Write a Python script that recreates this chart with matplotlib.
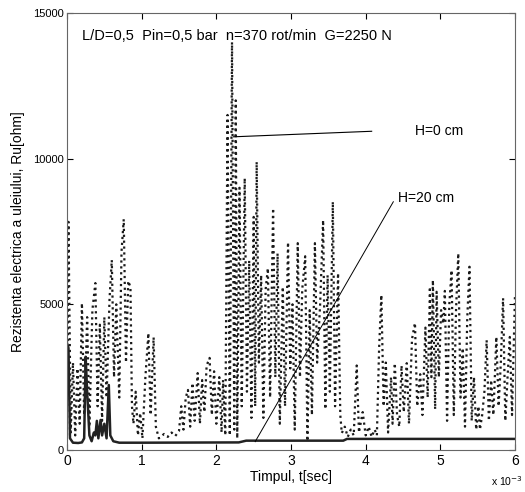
import matplotlib
matplotlib.use("Agg")
import matplotlib.pyplot as plt

plt.rcParams['font.family'] = ['Liberation Sans', 'DejaVu Sans']

# H=0 cm signal (time in ms, resistance in ohm) - peaks/troughs
t_h0 = [0.00, 0.02, 0.05, 0.08, 0.11, 0.14, 0.17, 0.20, 0.23, 0.27, 0.30, 0.34, 0.38, 0.41,
        0.44, 0.47, 0.50, 0.53, 0.57, 0.60, 0.63, 0.66, 0.70, 0.73, 0.76, 0.79, 0.82, 0.85,
        0.87, 0.89, 0.92, 0.95, 0.98, 1.01, 1.05, 1.09, 1.12, 1.16, 1.19, 1.23, 1.30, 1.35,
        1.40, 1.45, 1.50, 1.53, 1.56, 1.59, 1.62, 1.65, 1.68, 1.71, 1.75, 1.78, 1.81, 1.84,
        1.87, 1.91, 1.94, 1.97, 2.00, 2.04, 2.07, 2.09, 2.12, 2.15, 2.18, 2.21, 2.24, 2.26,
        2.28, 2.31, 2.34, 2.38, 2.41, 2.44, 2.47, 2.50, 2.52, 2.54, 2.57, 2.60, 2.63, 2.66,
        2.69, 2.72, 2.76, 2.79, 2.82, 2.85, 2.89, 2.92, 2.96, 2.99, 3.02, 3.05, 3.09, 3.12,
        3.15, 3.19, 3.22, 3.25, 3.28, 3.32, 3.35, 3.39, 3.43, 3.46, 3.49, 3.52, 3.56, 3.59,
        3.63, 3.66, 3.68, 3.72, 3.76, 3.80, 3.84, 3.88, 3.91, 3.96, 4.00, 4.04, 4.08, 4.12,
        4.15, 4.18, 4.21, 4.24, 4.27, 4.30, 4.34, 4.36, 4.39, 4.42, 4.45, 4.48, 4.51, 4.55,
        4.58, 4.62, 4.66, 4.69, 4.73, 4.76, 4.80, 4.83, 4.86, 4.88, 4.90, 4.93, 4.95, 4.98,
        5.01, 5.04, 5.06, 5.09, 5.12, 5.15, 5.18, 5.21, 5.24, 5.27, 5.30, 5.33, 5.36, 5.39,
        5.42, 5.45, 5.48, 5.51, 5.53, 5.56, 5.59, 5.62, 5.65, 5.68, 5.71, 5.75, 5.78, 5.81,
        5.84, 5.87, 5.90, 5.93, 5.96, 6.00]
r_h0 = [500, 7830, 600, 3000, 500, 2800, 900, 5040, 1200, 4560, 800, 4800, 5730, 1500,
        4300, 1000, 4560, 1800, 5200, 6520, 2500, 5000, 1800, 6800, 7920, 3000, 5800, 5590,
        1500, 900, 2000, 500, 1270, 400, 2500, 4010, 1200, 3870, 800, 400, 550, 450,
        600, 480, 650, 1500, 700, 1800, 2060, 800, 2300, 1000, 2640, 900, 2400, 1300,
        2900, 3160, 1200, 2700, 900, 2500, 600, 2400, 500, 11500, 500, 14000, 700, 12000,
        400, 9000, 1500, 9330, 2000, 6500, 1100, 8000, 1500, 9890, 3000, 6000, 1100, 5500,
        6240, 1800, 8300, 2500, 6750, 900, 5600, 1500, 7130, 2800, 5000, 700, 7100, 2500,
        5500, 6650, 300, 4800, 1200, 7100, 3000, 5000, 7890, 1400, 6000, 2000, 8520, 1500,
        6070, 1200, 580, 800, 450, 700, 500, 2900, 600, 1300, 500, 800, 450, 700,
        500, 3500, 5320, 1500, 3000, 600, 2500, 900, 2980, 1200, 800, 2900, 1300, 2980,
        900, 3800, 4360, 1500, 2600, 1200, 4200, 1800, 5600, 2500, 5830, 1400, 5430, 2500,
        4800, 4340, 5460, 1000, 5000, 6170, 1200, 4800, 6750, 1800, 3500, 800, 4500, 6290,
        1000, 2500, 700, 1500, 700, 1200, 2000, 3770, 1000, 2400, 1200, 3880, 1500, 3000,
        5210, 1000, 2500, 3880, 1200, 5370]

# H=20 cm signal
t_h20 = [0.00, 0.02, 0.04, 0.08, 0.15, 0.20, 0.23, 0.25, 0.27, 0.30, 0.33, 0.36, 0.38,
         0.40, 0.42, 0.45, 0.47, 0.50, 0.53, 0.56, 0.58, 0.62, 0.70, 1.00, 2.30, 2.40,
         3.70, 3.75, 6.00]
r_h20 = [3670, 3500, 400, 250, 240, 260, 400, 3200, 2000, 500, 300, 600, 500,
         1000, 400, 1030, 500, 900, 400, 2230, 500, 300, 250, 250, 260, 320,
         320, 380, 380]

fig = plt.figure(figsize=(5.25, 4.92), dpi=100)
ax = fig.add_axes([0.1276, 0.0854, 0.8534, 0.8882])

ax.plot(t_h0, r_h0, linestyle=':', color='#1a1a1a', linewidth=1.6)
ax.plot(t_h20, r_h20, linestyle='-', color='#222222', linewidth=1.8)

# annotation lines
ax.plot([2.23, 4.08], [10750, 10940], color='black', linewidth=0.8)
ax.plot([2.52, 4.37], [285, 8520], color='black', linewidth=0.7)
ax.text(4.66, 10940, "H=0 cm", fontsize=10, va='center', ha='left')
ax.text(4.43, 8640, "H=20 cm", fontsize=10, va='center', ha='left')
ax.text(0.2, 14200, "L/D=0,5  Pin=0,5 bar  n=370 rot/min  G=2250 N",
        fontsize=10.5, va='center', ha='left')

ax.set_xlim(0, 6)
ax.set_ylim(0, 15000)
ax.set_xticks([0, 1, 2, 3, 4, 5, 6])
ax.set_yticks([0, 5000, 10000, 15000])
ax.tick_params(axis='x', direction='in', top=True, labelsize=10, length=4, pad=3)
ax.tick_params(axis='y', direction='in', right=True, labelsize=8, length=4, pad=2)
for s in ax.spines.values():
    s.set_color('#666666')

ax.set_xlabel("Timpul, t[sec]", fontsize=10, labelpad=1)
ax.set_ylabel("Rezistenta electrica a uleiului, Ru[ohm]", fontsize=10, labelpad=6)
fig.text(0.935, 0.008, r"x 10$^{-3}$", fontsize=7.5, ha='left', va='bottom')

plt.savefig("out.png", dpi=100)
